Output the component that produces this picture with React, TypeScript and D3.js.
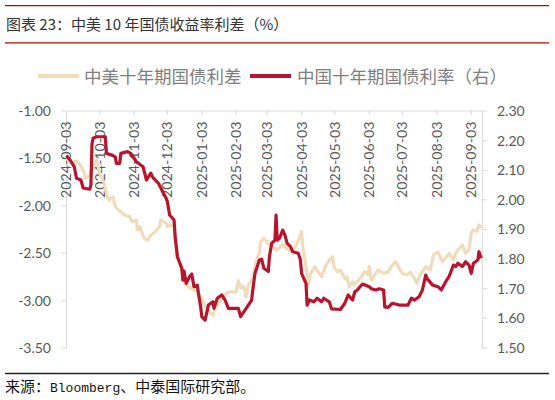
import * as d3 from "d3";

// 中美10年国债利差（左轴）
const spreadDates = [
  "2024-09-03", "2024-09-06", "2024-09-09", "2024-09-13", "2024-09-17", "2024-09-19", "2024-09-20", "2024-09-24",
  "2024-09-27", "2024-09-30", "2024-10-03", "2024-10-07", "2024-10-09", "2024-10-11", "2024-10-15", "2024-10-16",
  "2024-10-18", "2024-10-22", "2024-10-25", "2024-10-30", "2024-11-01", "2024-11-05", "2024-11-06", "2024-11-08",
  "2024-11-12", "2024-11-15", "2024-11-18", "2024-11-22", "2024-11-26", "2024-11-27", "2024-12-02", "2024-12-03",
  "2024-12-05", "2024-12-09", "2024-12-10", "2024-12-12", "2024-12-16", "2024-12-17", "2024-12-20", "2024-12-24",
  "2024-12-30", "2025-01-03", "2025-01-07", "2025-01-13", "2025-01-15", "2025-01-20", "2025-01-22", "2025-01-27",
  "2025-02-03", "2025-02-05", "2025-02-07", "2025-02-10", "2025-02-12", "2025-02-14", "2025-02-18", "2025-02-21",
  "2025-02-24", "2025-02-25", "2025-02-28", "2025-03-04", "2025-03-07", "2025-03-12", "2025-03-17", "2025-03-20",
  "2025-03-25", "2025-03-28", "2025-04-01", "2025-04-03", "2025-04-04", "2025-04-07", "2025-04-09", "2025-04-11",
  "2025-04-15", "2025-04-17", "2025-04-21", "2025-04-24", "2025-04-28", "2025-05-01", "2025-05-02", "2025-05-05",
  "2025-05-08", "2025-05-12", "2025-05-14", "2025-05-16", "2025-05-19", "2025-05-20", "2025-05-23", "2025-05-27",
  "2025-05-30", "2025-06-02", "2025-06-03", "2025-06-05", "2025-06-09", "2025-06-11", "2025-06-16", "2025-06-20",
  "2025-06-24", "2025-06-27", "2025-07-01", "2025-07-03", "2025-07-07", "2025-07-10", "2025-07-14", "2025-07-16",
  "2025-07-18", "2025-07-22", "2025-07-24", "2025-07-28", "2025-07-31", "2025-08-04", "2025-08-06", "2025-08-08",
  "2025-08-12", "2025-08-14", "2025-08-18", "2025-08-20", "2025-08-22", "2025-08-26", "2025-08-29", "2025-09-01",
  "2025-09-03", "2025-09-05", "2025-09-08", "2025-09-10", "2025-09-12",
];
const spreadValues = [
  -1.5, -1.52, -1.535, -1.535, -1.604, -1.657, -1.71, -1.675,
  -1.59, -1.517, -1.657, -1.763, -1.868, -1.939, -1.904, -1.97,
  -2.026, -2.062, -2.097, -2.115, -2.168, -2.15, -2.255, -2.22,
  -2.343, -2.361, -2.308, -2.273, -2.22, -2.15, -2.185, -2.22,
  -2.203, -2.22, -2.35, -2.54, -2.66, -2.78, -2.835, -2.87,
  -2.906, -2.976, -3.081, -3.152, -3.081, -3.0, -2.959, -2.91,
  -2.905, -2.79, -2.86, -2.853, -2.96, -2.84, -2.76, -2.59,
  -2.49, -2.38, -2.343, -2.4, -2.431, -2.466, -2.41, -2.448,
  -2.484, -2.44, -2.343, -2.27, -2.43, -2.642, -2.835, -2.72,
  -2.642, -2.68, -2.748, -2.65, -2.572, -2.537, -2.64, -2.695,
  -2.68, -2.765, -2.75, -2.853, -2.8, -2.83, -2.801, -2.748,
  -2.695, -2.73, -2.642, -2.783, -2.71, -2.677, -2.71, -2.7,
  -2.624, -2.59, -2.68, -2.712, -2.73, -2.7, -2.765, -2.818,
  -2.75, -2.677, -2.64, -2.677, -2.519, -2.484, -2.54, -2.59,
  -2.54, -2.501, -2.57, -2.501, -2.466, -2.413, -2.5, -2.466,
  -2.29, -2.255, -2.27, -2.203, -2.237,
];

// 中国十年期国债利率（右轴）
const cnDates = [
  "2024-09-03", "2024-09-06", "2024-09-10", "2024-09-12", "2024-09-16", "2024-09-18", "2024-09-24", "2024-09-25",
  "2024-09-26", "2024-09-27", "2024-09-30", "2024-10-08", "2024-10-09", "2024-10-14", "2024-10-17", "2024-10-18",
  "2024-10-21", "2024-10-22", "2024-10-28", "2024-10-31", "2024-11-05", "2024-11-11", "2024-11-13", "2024-11-14",
  "2024-11-18", "2024-11-20", "2024-11-25", "2024-11-28", "2024-12-02", "2024-12-03", "2024-12-05", "2024-12-09",
  "2024-12-10", "2024-12-12", "2024-12-16", "2024-12-17", "2024-12-18", "2024-12-20", "2024-12-23", "2024-12-25",
  "2024-12-27", "2024-12-30", "2024-12-31", "2025-01-02", "2025-01-03", "2025-01-06", "2025-01-09", "2025-01-13",
  "2025-01-14", "2025-01-17", "2025-01-21", "2025-01-24", "2025-01-27", "2025-02-05", "2025-02-07", "2025-02-11",
  "2025-02-17", "2025-02-18", "2025-02-20", "2025-02-24", "2025-02-26", "2025-02-28", "2025-03-04", "2025-03-05",
  "2025-03-07", "2025-03-10", "2025-03-11", "2025-03-12", "2025-03-14", "2025-03-17", "2025-03-19", "2025-03-21",
  "2025-03-24", "2025-03-26", "2025-03-31", "2025-04-02", "2025-04-03", "2025-04-07", "2025-04-08", "2025-04-10",
  "2025-04-14", "2025-04-17", "2025-04-21", "2025-04-23", "2025-04-28", "2025-04-30", "2025-05-08", "2025-05-12",
  "2025-05-15", "2025-05-19", "2025-05-21", "2025-05-23", "2025-05-28", "2025-06-03", "2025-06-05", "2025-06-09",
  "2025-06-12", "2025-06-16", "2025-06-17", "2025-06-20", "2025-06-24", "2025-06-30", "2025-07-03", "2025-07-08",
  "2025-07-11", "2025-07-14", "2025-07-18", "2025-07-21", "2025-07-24", "2025-07-25", "2025-07-30", "2025-08-04",
  "2025-08-07", "2025-08-11", "2025-08-14", "2025-08-18", "2025-08-20", "2025-08-22", "2025-08-26", "2025-08-29",
  "2025-09-01", "2025-09-03", "2025-09-05", "2025-09-09", "2025-09-10", "2025-09-12",
];
const cnValues = [
  2.15, 2.135, 2.112, 2.073, 2.067, 2.04, 2.036, 2.05,
  2.19, 2.208, 2.213, 2.213, 2.157, 2.151, 2.145, 2.123,
  2.123, 2.157, 2.163, 2.157, 2.129, 2.112, 2.084, 2.067,
  2.09, 2.075, 2.056, 2.033, 2.005, 1.994, 1.949, 1.932,
  1.876, 1.808, 1.769, 1.729, 1.76, 1.718, 1.741, 1.75,
  1.707, 1.712, 1.684, 1.639, 1.606, 1.594, 1.645, 1.656,
  1.634, 1.668, 1.679, 1.662, 1.634, 1.634, 1.606, 1.628,
  1.662, 1.696, 1.752, 1.797, 1.8, 1.769, 1.758, 1.808,
  1.853, 1.864, 1.949, 1.864, 1.87, 1.898, 1.881, 1.853,
  1.842, 1.825, 1.82, 1.797, 1.752, 1.718, 1.645, 1.662,
  1.656, 1.668, 1.656, 1.668, 1.656, 1.632, 1.63, 1.651,
  1.679, 1.662, 1.69, 1.695, 1.716, 1.707, 1.7, 1.696,
  1.7, 1.696, 1.639, 1.637, 1.651, 1.645, 1.645, 1.645,
  1.668, 1.662, 1.673, 1.696, 1.746, 1.735, 1.713, 1.707,
  1.696, 1.724, 1.741, 1.78, 1.775, 1.786, 1.775, 1.791,
  1.78, 1.752, 1.786, 1.797, 1.825, 1.803,
];

const xTickLabels = [
  "2024-09-03", "2024-10-03", "2024-11-03", "2024-12-03", "2025-01-03", "2025-02-03", "2025-03-03",
  "2025-04-03", "2025-05-03", "2025-06-03", "2025-07-03", "2025-08-03", "2025-09-03",
];
const leftTicks = [-1.0, -1.5, -2.0, -2.5, -3.0, -3.5];
const rightTicks = [2.3, 2.2, 2.1, 2.0, 1.9, 1.8, 1.7, 1.6, 1.5];

const W = 555;
const H = 400;
const PLOT = { left: 66.5, right: 482.3, top: 111, bottom: 348 };
const RED = "#b8142c";
const BEIGE = "#f0dcbb";
const AXIS = "#d9d9d9";
const LABEL = "#595959";
const NUM_FONT = "Lato, 'Liberation Sans', sans-serif";
const CJK_FONT = "'Noto Sans CJK SC', sans-serif";

export default function App() {
  const parse = d3.timeParse("%Y-%m-%d");

  const x = d3
    .scaleTime()
    .domain([parse("2024-09-03")!, parse("2025-09-13")!])
    .range([PLOT.left, PLOT.right]);
  const yL = d3.scaleLinear().domain([-3.5, -1.0]).range([PLOT.bottom, PLOT.top]);
  const yR = d3.scaleLinear().domain([1.5, 2.3]).range([PLOT.bottom, PLOT.top]);

  const spread = d3.range(Math.min(spreadDates.length, spreadValues.length)).map((i) => ({
    date: parse(spreadDates[i])!,
    value: spreadValues[i],
  }));
  const cn = d3.range(Math.min(cnDates.length, cnValues.length)).map((i) => ({
    date: parse(cnDates[i])!,
    value: cnValues[i],
  }));

  const spreadLine = d3
    .line<{ date: Date; value: number }>()
    .x((d) => x(d.date))
    .y((d) => yL(d.value));
  const cnLine = d3
    .line<{ date: Date; value: number }>()
    .x((d) => x(d.date))
    .y((d) => yR(d.value));

  return (
    <svg width={W} height={H} style={{ position: "absolute", left: 0, top: 0, background: "#fff" }}>
      {/* title block */}
      <line x1={5} x2={549} y1={5.7} y2={5.7} stroke="#c00000" strokeWidth={1.3} />
      <text x={6} y={30} fontFamily={CJK_FONT} fontSize={15} fill="#333">
        图表 23：中美 10 年国债收益率利差（%）
      </text>
      <line x1={5} x2={549} y1={42.8} y2={42.8} stroke="#c00000" strokeWidth={1.3} />

      {/* legend */}
      <g fontFamily={CJK_FONT} fontSize={17.5} fill="#7f7f7f">
        <line x1={38} x2={79} y1={76} y2={76} stroke={BEIGE} strokeWidth={4} />
        <text x={84} y={82.5}>中美十年期国债利差</text>
        <line x1={250} x2={291} y1={76} y2={76} stroke={RED} strokeWidth={4} />
        <text x={297} y={82.5}>中国十年期国债利率（右）</text>
      </g>

      {/* axes */}
      <line x1={PLOT.left} x2={PLOT.right} y1={PLOT.top} y2={PLOT.top} stroke={AXIS} />
      <line x1={PLOT.left} x2={PLOT.left} y1={PLOT.top} y2={PLOT.bottom} stroke={AXIS} />
      <line x1={PLOT.right} x2={PLOT.right} y1={PLOT.top} y2={PLOT.bottom} stroke={AXIS} />

      {leftTicks.map((t) => (
        <g key={"l" + t}>
          <line x1={PLOT.left - 5} x2={PLOT.left} y1={yL(t)} y2={yL(t)} stroke={AXIS} />
          <text
            x={51}
            y={yL(t)}
            dy="0.35em"
            textAnchor="end"
            fontFamily={NUM_FONT}
            fontSize={14}
            fill={LABEL}
          >
            {t.toFixed(2)}
          </text>
        </g>
      ))}
      {rightTicks.map((t) => (
        <g key={"r" + t}>
          <line x1={PLOT.right} x2={PLOT.right + 5} y1={yR(t)} y2={yR(t)} stroke={AXIS} />
          <text
            x={497}
            y={yR(t)}
            dy="0.35em"
            fontFamily={NUM_FONT}
            fontSize={14}
            fill={LABEL}
          >
            {t.toFixed(2)}
          </text>
        </g>
      ))}
      {xTickLabels.map((s) => {
        const tx = x(parse(s)!);
        return (
          <g key={s}>
            <line x1={tx} x2={tx} y1={PLOT.top} y2={PLOT.top + 4} stroke={AXIS} />
            <text
              transform={`translate(${tx},${PLOT.top + 10.5}) rotate(-90)`}
              dy="0.35em"
              textAnchor="end"
              fontFamily={NUM_FONT}
              fontSize={14.2}
              fill={LABEL}
            >
              {s}
            </text>
          </g>
        );
      })}

      {/* series */}
      <path d={spreadLine(spread) || undefined} fill="none" stroke={BEIGE} strokeWidth={3.2} strokeLinejoin="round" />
      <path d={cnLine(cn) || undefined} fill="none" stroke={RED} strokeWidth={3.2} strokeLinejoin="round" />

      {/* source */}
      <line x1={5} x2={549} y1={373.5} y2={373.5} stroke="#222" strokeWidth={1.6} />
      <text x={5} y={392} fontSize={15} fontFamily={CJK_FONT} fill="#111">
        来源：
        <tspan fontFamily="'Liberation Mono', monospace" fontSize={13}>
          Bloomberg
        </tspan>
        、中泰国际研究部。
      </text>
    </svg>
  );
}
